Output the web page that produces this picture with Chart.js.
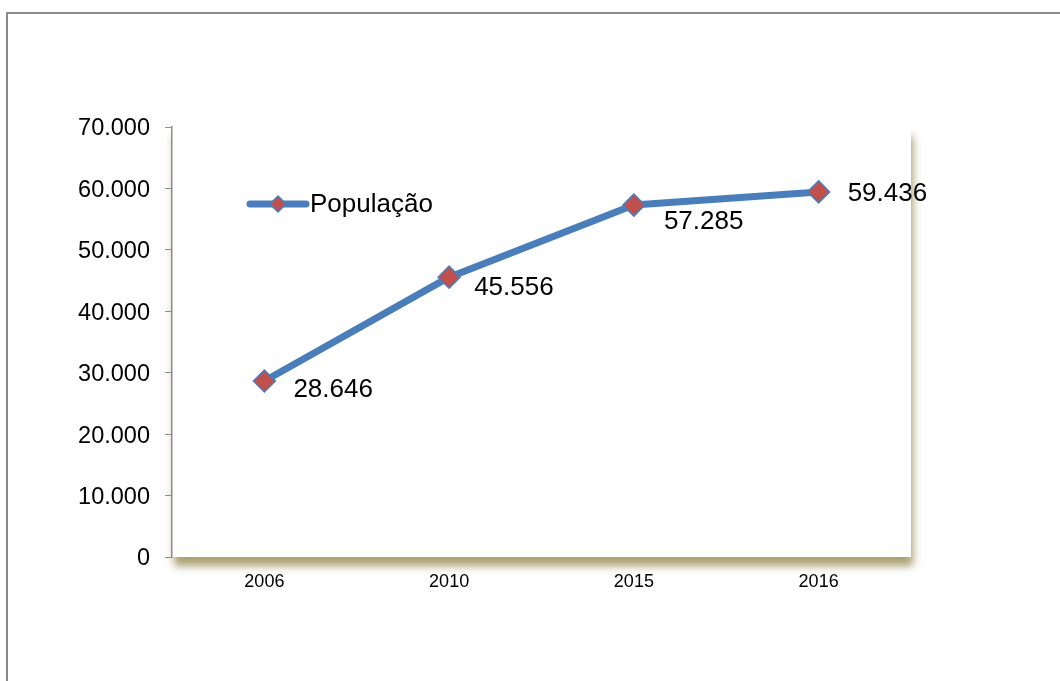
<!DOCTYPE html>
<html lang="pt">
<head>
<meta charset="utf-8">
<title>População</title>
<script src="https://cdn.jsdelivr.net/npm/chart.js@4.4.1/dist/chart.umd.min.js"></script>
<style>
  html, body { margin: 0; padding: 0; background: #fff; }
  body { width: 1060px; height: 681px; position: relative; overflow: hidden; }
  .frame {
    position: absolute; left: 6px; top: 12px; width: 1100px; height: 700px;
    border-top: 2px solid #8a8a8a; border-left: 2px solid #8a8a8a;
  }
  #chart { position: absolute; left: 0; top: 0; }
</style>
</head>
<body>
<div class="frame"></div>
<canvas id="chart" width="1060" height="681"></canvas>
<script>
const years = ['2006', '2010', '2015', '2016'];
const population = [28646, 45556, 57285, 59436];
const yTicks = [0, 10000, 20000, 30000, 40000, 50000, 60000, 70000];

const LINE_BLUE = '#4a7ebb';
const MARKER_RED = '#c0504d';
const FONT = 'Arial, "Liberation Sans", sans-serif';

// 59436 -> "59.436"
function fmt(n) {
  return String(Math.round(n)).replace(/\B(?=(\d{3})+(?!\d))/g, '.');
}

// soft beige drop shadow under the plot area
const plotShadow = {
  id: 'plotShadow',
  beforeDraw(chart) {
    const { ctx, chartArea: a } = chart;
    ctx.save();
    ctx.shadowColor = 'rgba(150, 138, 80, 0.8)';
    ctx.shadowBlur = 8;
    ctx.shadowOffsetX = 2;
    ctx.shadowOffsetY = 9;
    ctx.fillStyle = '#fff';
    ctx.fillRect(a.left, a.top, a.right - a.left, a.bottom - a.top);
    ctx.restore();
  }
};

// value labels beside each marker, plus the in-plot legend
const labelOffsets = [[29, 9], [25, 11], [30, 17], [29, 2]];
const valueLabels = {
  id: 'valueLabels',
  afterDatasetsDraw(chart) {
    const { ctx } = chart;
    const meta = chart.getDatasetMeta(0);
    ctx.save();
    ctx.font = '26px ' + FONT;
    ctx.fillStyle = '#000';
    ctx.textBaseline = 'middle';
    ctx.textAlign = 'left';
    meta.data.forEach((pt, i) => {
      const [dx, dy] = labelOffsets[i];
      ctx.fillText(fmt(population[i]), pt.x + dx, pt.y + dy);
    });

    // legend entry
    const lx = 250, ly = 204;
    ctx.strokeStyle = LINE_BLUE;
    ctx.lineWidth = 7;
    ctx.lineCap = 'round';
    ctx.beginPath();
    ctx.moveTo(lx, ly);
    ctx.lineTo(lx + 56, ly);
    ctx.stroke();
    const cx = lx + 28, r = 8;
    ctx.beginPath();
    ctx.moveTo(cx, ly - r);
    ctx.lineTo(cx + r, ly);
    ctx.lineTo(cx, ly + r);
    ctx.lineTo(cx - r, ly);
    ctx.closePath();
    ctx.fillStyle = MARKER_RED;
    ctx.fill();
    ctx.lineWidth = 1.5;
    ctx.stroke();
    ctx.fillStyle = '#000';
    ctx.fillText(chart.data.datasets[0].label, lx + 60, ly + 1);
    ctx.restore();
  }
};

new Chart(document.getElementById('chart'), {
  type: 'line',
  data: {
    labels: years,
    datasets: [{
      label: 'População',
      data: population,
      borderColor: LINE_BLUE,
      borderWidth: 7,
      borderJoinStyle: 'round',
      borderCapStyle: 'round',
      tension: 0,
      pointStyle: 'rectRot',
      pointRadius: 11,
      pointHoverRadius: 11,
      pointBackgroundColor: MARKER_RED,
      pointBorderColor: LINE_BLUE,
      pointBorderWidth: 1.5
    }]
  },
  options: {
    responsive: false,
    animation: false,
    devicePixelRatio: 1,
    layout: { padding: { left: 0, top: 127, right: 149, bottom: 0 } },
    plugins: {
      legend: { display: false },
      tooltip: { enabled: false }
    },
    scales: {
      x: {
        offset: true,
        grid: { display: false },
        border: { display: false },
        ticks: {
          color: '#000',
          font: { family: FONT, size: 18 },
          padding: 6,
          maxRotation: 0
        },
        afterFit(scale) { scale.height = 124; }
      },
      y: {
        min: 0,
        max: 70000,
        afterBuildTicks(scale) { scale.ticks = yTicks.map(v => ({ value: v })); },
        grid: {
          drawOnChartArea: false,
          drawTicks: true,
          tickLength: 7,
          color: '#8c8c8c'
        },
        border: { display: true, color: '#8c8c8c', width: 1.5 },
        ticks: {
          color: '#000',
          font: { family: FONT, size: 23.5 },
          padding: 15,
          labelOffset: 2,
          callback: v => fmt(v)
        },
        afterFit(scale) { scale.width = 172; }
      }
    }
  },
  plugins: [plotShadow, valueLabels]
});
</script>
</body>
</html>
